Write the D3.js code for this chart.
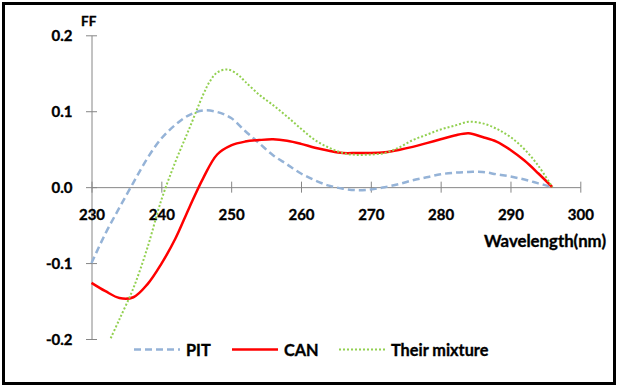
<!DOCTYPE html>
<html>
<head>
<meta charset="utf-8">
<script src="https://cdn.jsdelivr.net/npm/d3@7"></script>
<style>
  html, body { margin: 0; padding: 0; background: #fff; }
  svg { display: block; }
  text { font-family: Lato, "Open Sans", sans-serif; font-weight: bold; fill: #000; stroke: #000; stroke-width: 0.35px; }
</style>
</head>
<body>
<svg id="chart" width="618" height="388"></svg>
<script>
// ---- data ----
const wavelengths = [230,232,234,236,238,240,242,244,246,248,250,252,254,256,258,260,262,264,266,268,270,272,274,276,278,280,282,284,286,288,290,292,294,296];
const pitValues = [-0.100,-0.061,-0.027,0.006,0.038,0.064,0.082,0.095,0.101,0.099,0.091,0.074,0.058,0.042,0.030,0.018,0.009,0.002,-0.002,-0.004,-0.003,0.000,0.004,0.009,0.013,0.017,0.019,0.020,0.020,0.017,0.014,0.010,0.005,0.000];
const canValues = [-0.126,-0.137,-0.146,-0.145,-0.128,-0.101,-0.068,-0.027,0.012,0.043,0.055,0.060,0.062,0.063,0.061,0.057,0.052,0.048,0.045,0.045,0.045,0.046,0.049,0.053,0.058,0.063,0.068,0.071,0.066,0.060,0.049,0.035,0.018,0.000];
const mixtureWavelengths = [232.75,234,236,238,240,242,244,246,247,248,249.5,251,252,254,256,258,260,262,264,266,268,270,272,274,276,278,280,282,284,286,288,290,292,294,296];
const mixtureValues = [-0.199,-0.174,-0.133,-0.080,-0.017,0.033,0.077,0.122,0.140,0.151,0.155,0.148,0.139,0.122,0.108,0.093,0.077,0.062,0.052,0.045,0.0425,0.043,0.045,0.052,0.062,0.069,0.076,0.081,0.086,0.084,0.077,0.066,0.050,0.028,0.000];
const xTicks = [230,240,250,260,270,280,290,300];
const yTicks = [-0.2,-0.1,0.0,0.1,0.2];
const seriesNames = ["PIT","CAN","Their mixture"];
const xTitle = "Wavelength(nm)";
const yTitle = "FF";

// ---- layout ----
const svg = d3.select("#chart");
const x = d3.scaleLinear().domain([230,300]).range([91.5,580.3]);
const y = d3.scaleLinear().domain([-0.2,0.2]).range([339,35.3]);
const axisColor = "#868686";

// border
svg.append("rect").attr("x",3.5).attr("y",3.5).attr("width",611).attr("height",380)
  .attr("fill","none").attr("stroke","#000").attr("stroke-width",3);

// y axis
const yAxis = d3.axisLeft(y).tickValues(yTicks).tickSize(0);
const gy = svg.append("g").attr("transform",`translate(${x(230)},0)`).call(yAxis);
gy.select(".domain").attr("stroke",axisColor);
gy.selectAll(".tick line").remove();
gy.selectAll(".tick").append("line").attr("x1",-5.5).attr("x2",5.5).attr("stroke",axisColor);
gy.selectAll(".tick text").attr("x",-19).attr("dy","0.36em")
  .style("font-size","15px").style("font-family","Lato").style("font-weight","bold").attr("fill","#000")
  .text(d => d3.format(".1f")(d).replace("−","-"));

// x axis at y=0
const xAxis = d3.axisBottom(x).tickValues(xTicks).tickSize(0);
const gx = svg.append("g").attr("transform",`translate(0,${y(0)})`).call(xAxis);
gx.select(".domain").attr("stroke",axisColor);
gx.selectAll(".tick line").remove();
gx.selectAll(".tick").append("line").attr("y1",-5.5).attr("y2",5.5).attr("stroke",axisColor);
gx.selectAll(".tick text").attr("y",33).attr("dy",0)
  .style("font-size","15px").style("font-family","Lato").style("font-weight","bold").attr("fill","#000");

// titles
svg.append("text").attr("x",81).attr("y",26).style("font-size","13.5px").text(yTitle);
svg.append("text").attr("x",606).attr("y",247).attr("text-anchor","end").style("font-size","16.8px").text(xTitle);

// lines
const line = d3.line().x(d => x(d[0])).y(d => y(d[1])).curve(d3.curveCatmullRom.alpha(0.5));
const styles = [
  {color:"#95B3D7", width:2.5, dash:"7,4"},
  {color:"#FF0000", width:2.5, dash:null},
  {color:"#92D050", width:2, dash:"2,2"}
];
const seriesData = [
  d3.zip(wavelengths, pitValues),
  d3.zip(wavelengths, canValues),
  d3.zip(mixtureWavelengths, mixtureValues)
];
seriesData.forEach((d,i) => {
  svg.append("path").datum(d).attr("d",line).attr("fill","none")
    .attr("stroke",styles[i].color).attr("stroke-width",styles[i].width)
    .attr("stroke-dasharray",styles[i].dash);
});

// legend
const legendX = [134,232,339];
seriesNames.forEach((n,i) => {
  svg.append("line").attr("x1",legendX[i]).attr("x2",legendX[i]+46).attr("y1",349.5).attr("y2",349.5)
    .attr("stroke",styles[i].color).attr("stroke-width",styles[i].width).attr("stroke-dasharray",styles[i].dash);
  svg.append("text").attr("x",legendX[i]+52).attr("y",355.5).style("font-size","16.3px").text(n);
});
</script>
</body>
</html>
